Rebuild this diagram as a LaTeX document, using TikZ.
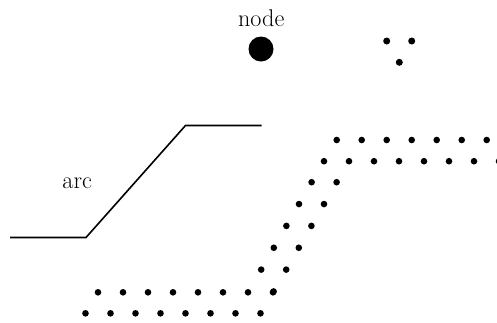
\documentclass[tikz,border=0pt]{standalone}
\usepackage{fontspec}
\begin{document}
\begin{tikzpicture}[x=1pt,y=-1pt,
  bigtext/.style={font=\fontsize{24.2}{28}\selectfont, inner sep=0pt, anchor=base},
  dotmark/.style={fill=black, draw=none},
  bigdot/.style={circle, fill=black, minimum size=25pt, inner sep=0pt}]
\useasboundingbox (0,0) rectangle (497,322);
% node example
\node[bigdot] (n1) at (261,49) {};
\node[bigtext] (nodelabel) at (261.2,26) {node};
% three small dots
\coordinate (s1) at (386.7,41);
\coordinate (s2) at (411.7,41);
\coordinate (s3) at (399.3,62.3);
\foreach \p in {s1,s2,s3} \fill[dotmark] (\p) circle (3.5);
% arc line
\coordinate (a1) at (10,237.5);
\coordinate (a2) at (86,237.5);
\coordinate (a3) at (185.5,125.5);
\coordinate (a4) at (261.7,125.5);
\draw[line width=1.6pt, line join=miter] (a1) -- (a2) -- (a3) -- (a4);
\node[bigtext] (arclabel) at (77.2,188.3) {arc};
% dotted band
\foreach \k in {0,...,7} {
  \fill[dotmark] (85.5+25*\k,313.3) circle (3.3);
  \fill[dotmark] (98+25*\k,292.3) circle (3.3);
  \fill[dotmark] (324+25*\k,161.2) circle (3.3);
}
\foreach \k in {0,...,6} {
  \fill[dotmark] (336.7+25*\k,140) circle (3.3);
}
\foreach \j in {1,...,6} {
  \fill[dotmark] (261+12.6*\j,313.3-21.85*\j) circle (3.3);
}
\foreach \j in {2,...,6} {
  \fill[dotmark] (236+12.6*\j,313.3-21.85*\j) circle (3.3);
}
\end{tikzpicture}
\end{document}
